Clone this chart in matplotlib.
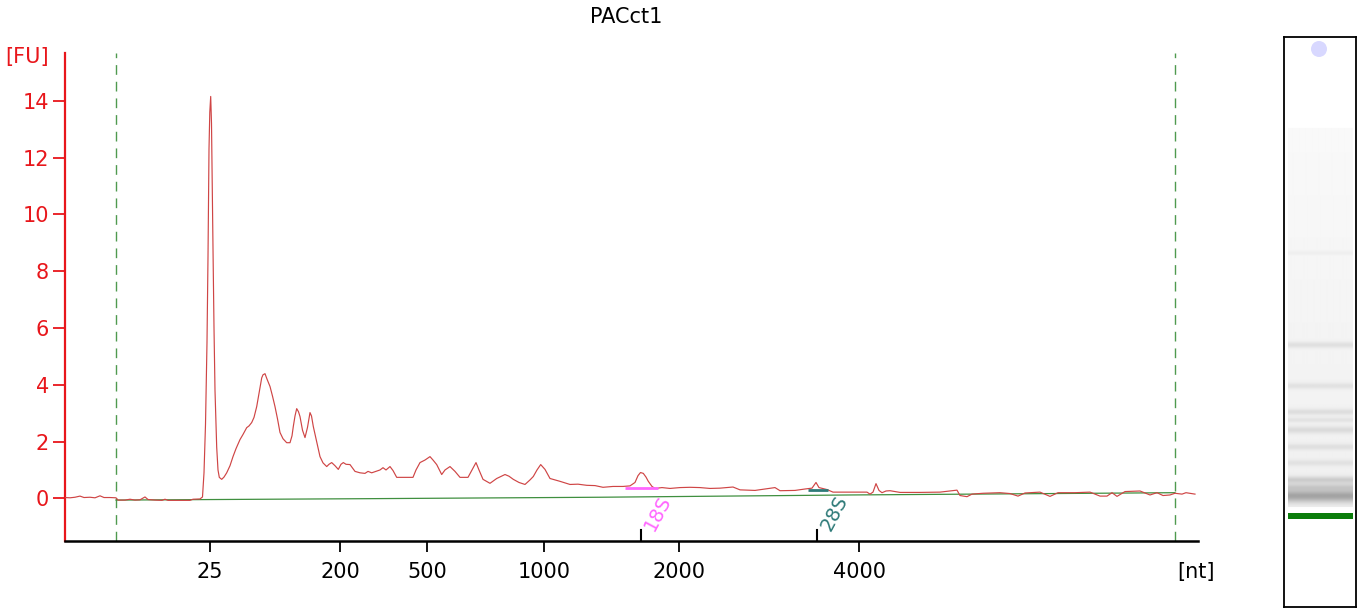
import numpy as np
import matplotlib
matplotlib.use("Agg")
import matplotlib.pyplot as plt
from matplotlib.patches import Circle, Rectangle
import matplotlib.transforms as mtransforms

plt.rcParams['font.family'] = ['DejaVu Sans']

# ---------------- data ----------------
title = "PACct1"
# migration-time axis (arbitrary units) and fluorescence [FU]
t = [65, 70, 75, 80, 84, 90, 95, 100, 104, 110, 116,
     118, 125, 130, 135, 140, 145, 148, 155, 162, 165, 168, 180, 190, 193, 200,
     202.5, 204, 205.5, 207, 208, 209, 209.8, 210.7, 211.5, 212.3, 213, 214, 215,
     216.7, 218, 219.3, 221.7, 224, 226.7, 230, 233, 236, 240, 243, 246.7, 249,
     251.7, 254, 256.7, 259, 261.7, 263, 265, 267, 270, 272.5, 275, 277.5, 280,
     283, 286.7, 290, 292, 293.3, 295, 296.7, 298.5, 300, 302.5, 305, 307.5, 310,
     311.5, 313.3, 316, 320, 323, 326.7, 329, 331.7, 335, 338.3, 341, 343.3, 346,
     350, 355, 360, 365, 368, 371.7, 376, 380, 383, 386, 390, 393, 396.7, 405,
     413, 416, 420, 425, 430, 433, 436.7, 441.7, 445, 450, 455, 460, 468, 472,
     476, 479, 483, 490, 496.7, 505, 509, 513.3, 519, 525, 530, 533.3, 537,
     540.7, 545, 550, 555, 560, 570, 578, 586.7, 595, 603, 613, 623, 630, 635,
     638, 640.5, 643.3, 646, 648.3, 652, 655, 662, 670, 680, 690, 700, 710, 720,
     733, 740, 755, 775, 780, 795, 805, 812, 816, 819, 827, 833, 850, 867, 870,
     873, 876, 879, 882, 886, 890, 900, 920, 940, 957, 960, 967, 972, 983, 1000,
     1010, 1018, 1025, 1040, 1050, 1058, 1075, 1090, 1100, 1107, 1112, 1117,
     1125, 1140, 1150, 1157, 1163, 1170, 1175, 1182, 1186, 1195]
fu = [0.03, 0.02, 0.04, 0.08, 0.03, 0.04, 0.02, 0.09, 0.03, 0.03, 0.02,
      -0.06, -0.06, -0.03, -0.06, -0.05, 0.05, -0.04, -0.06, -0.07, -0.03, -0.07, -0.07, -0.07, -0.03, -0.02,
      0.05, 0.9, 2.6, 5.5, 8.5, 12.3, 13.6, 14.15, 13.2, 11.0, 8.8, 6.0, 3.8,
      1.8, 1.0, 0.74, 0.67, 0.75, 0.9, 1.15, 1.47, 1.75, 2.07, 2.25, 2.49, 2.55,
      2.67, 2.85, 3.23, 3.7, 4.24, 4.35, 4.39, 4.2, 3.94, 3.6, 3.23, 2.8, 2.32,
      2.1, 1.96, 1.96, 2.2, 2.53, 2.9, 3.16, 3.05, 2.88, 2.4, 2.14, 2.5, 3.02,
      2.9, 2.53, 2.1, 1.47, 1.25, 1.12, 1.2, 1.26, 1.15, 1.02, 1.2, 1.26, 1.2,
      1.19, 0.95, 0.9, 0.88, 0.95, 0.9, 0.95, 1.0, 1.08, 1.0, 1.12, 0.98, 0.74, 0.74,
      0.74, 1.0, 1.26, 1.35, 1.47, 1.35, 1.19, 0.84, 1.0, 1.12, 0.95, 0.74, 0.74, 1.0,
      1.26, 1.0, 0.67, 0.53, 0.7, 0.84, 0.78, 0.67, 0.56, 0.49, 0.65, 0.77, 1.0,
      1.19, 1.02, 0.7, 0.65, 0.6, 0.49, 0.5, 0.46, 0.45, 0.39, 0.42, 0.42, 0.44, 0.56,
      0.8, 0.91, 0.88, 0.75, 0.6, 0.42, 0.35, 0.38, 0.35, 0.38, 0.39, 0.38, 0.35, 0.36,
      0.4, 0.3, 0.28, 0.38, 0.27, 0.28, 0.33, 0.36, 0.56, 0.38, 0.31, 0.22, 0.22, 0.22, 0.15,
      0.22, 0.52, 0.28, 0.2, 0.26, 0.27, 0.21, 0.21, 0.22, 0.29, 0.1, 0.06, 0.15, 0.18, 0.2,
      0.17, 0.08, 0.19, 0.22, 0.07, 0.2, 0.2, 0.22, 0.08, 0.08, 0.2, 0.07,
      0.24, 0.26, 0.12, 0.2, 0.1, 0.12, 0.18, 0.15, 0.2, 0.15]

# baseline
base_t = [116, 370, 600, 850, 1175]
base_fu = [-0.06, -0.01, 0.04, 0.12, 0.20]

# x tick labels (nt ladder)
nt_pos = [210, 340, 427, 544, 679, 859]
nt_labels = ["25", "200", "500", "1000", "2000", "4000"]
y_ticks = [0, 2, 4, 6, 8, 10, 12, 14]

# ribosomal peaks
rrna_names = ["18S", "28S"]
rrna_pos = [640.7, 817.3]
rrna_start = [625, 808]
rrna_end = [658, 828]
rrna_level = [0.35, 0.29]
rrna_colors = ["#ff66ff", "#2e7a78"]

# lower / upper marker window
window = [116, 1175]

# virtual gel bands (position in lane pixels from top, intensity)
gel_band_pos = [216, 308, 349, 375, 383, 393, 410, 426, 443, 450, 459]
gel_band_int = [0.03, 0.08, 0.07, 0.08, 0.06, 0.09, 0.07, 0.06, 0.14, 0.12, 0.30]
gel_band_sig = [1.5, 2.2, 2.2, 2.2, 1.8, 2.5, 2.2, 2.2, 2.5, 2.5, 4.5]

# ---------------- figure ----------------
W, H = 1361, 609
fig = plt.figure(figsize=(W / 100, H / 100), dpi=100)
ax = fig.add_axes([65 / W, 1 - 540.7 / H, (1198 - 65) / W, (540.7 - 52.7) / H])

RED = "#e8161b"
ax.plot(t, fu, color="#cf4545", lw=0.85, zorder=3)
ax.plot(base_t, base_fu, color="#3f8f3f", lw=0.9, zorder=2)

for wx in window:
    ax.axvline(wx, color="#4f9a4f", lw=1.0, linestyle=(0, (7, 5)), zorder=1)

for name, p, s, e, lvl, c in zip(rrna_names, rrna_pos, rrna_start, rrna_end, rrna_level, rrna_colors):
    ax.plot([s, e], [lvl, lvl], color=c, lw=2.0, zorder=4, solid_capstyle="butt")
    ax.axvline(p, ymin=0, ymax=11 / 488, color="black", lw=1.5, zorder=5)
    off = mtransforms.offset_copy(ax.transData, fig=fig, x=17 * 0.72, y=-15 * 0.72, units="points")
    ax.text(p, 0.0, name, color=c, fontsize=14, rotation=62, ha="center", va="center",
            rotation_mode="anchor", transform=off)

ax.set_xlim(65, 1198)
ax.set_ylim(-1.49, 15.69)

ax.set_yticks(y_ticks)
ax.set_yticklabels([str(v) for v in y_ticks])
ax.set_xticks(nt_pos)
ax.set_xticklabels(nt_labels)

ax.tick_params(axis="y", colors=RED, labelcolor=RED, length=8.5, width=1.3, labelsize=15, pad=3)
ax.tick_params(axis="x", colors="black", length=8, width=1.3, labelsize=15, pad=7)

for side in ["top", "right"]:
    ax.spines[side].set_visible(False)
ax.spines["left"].set_color(RED)
ax.spines["left"].set_linewidth(1.6)
ax.spines["bottom"].set_color("black")
ax.spines["bottom"].set_linewidth(1.8)

fig.text(27 / W, 1 - 57 / H, "[FU]", color=RED, fontsize=15, ha="center", va="center")
fig.text(1196 / W, 1 - 572 / H, "[nt]", color="black", fontsize=15, ha="center", va="center")
fig.text(626 / W, 1 - 17 / H, title, color="black", fontsize=15, ha="center", va="center")

# ---------------- virtual gel ----------------
gx0, gy0, gw, gh = 1284, 37, 72, 570
gax = fig.add_axes([gx0 / W, 1 - (gy0 + gh) / H, gw / W, gh / H])
gax.set_xlim(0, gw)
gax.set_ylim(gh, 0)
rows = np.arange(gh) + 0.5
dark = np.zeros(gh)
bg = (rows > 91) & (rows < 470)
dark[bg] = 0.025 + 0.035 * (rows[bg] - 91) / (470 - 91)
for p, a, s in zip(gel_band_pos, gel_band_int, gel_band_sig):
    dark += a * np.exp(-0.5 * ((rows - p) / s) ** 2)
img = np.clip(dark, 0, 1)[:, None] * np.ones((1, 10))
gax.imshow(img, cmap="gray_r", vmin=0, vmax=1, aspect="auto",
           extent=[4, 69, gh, 0], interpolation="bilinear")
gax.add_patch(Rectangle((4, 476), 65, 5.5, color="#0b7d0b", lw=0))
gax.add_patch(Circle((35, 12), 8, color="#d8d8ff", lw=0))
gax.set_xticks([])
gax.set_yticks([])
for sp in gax.spines.values():
    sp.set_color("black")
    sp.set_linewidth(1.3)

fig.savefig("out.png", dpi=100)
